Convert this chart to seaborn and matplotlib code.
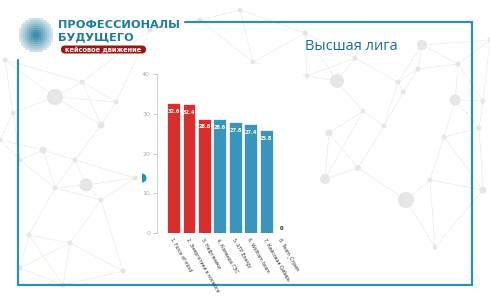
import numpy as np
import pandas as pd
import matplotlib
matplotlib.use("Agg")
import matplotlib.pyplot as plt
import seaborn as sns
from matplotlib.patches import Rectangle, FancyBboxPatch, Circle, Wedge
from matplotlib.lines import Line2D

# ---- data ----
teams = ["1. Force of mind", "2. Энергетики в космосе", "3. Нефтяники",
         "4. Команда ГЭС", "5. АТР Energy", "6. Wolfram team",
         "7. Кейсовая Сибирь", "8. Team_Стрим"]
scores = [32.6, 32.4, 28.8, 28.6, 27.8, 27.4, 25.8, 0.0]
bar_colors = ["#d92e2e", "#d92e2e", "#d92e2e", "#3a95bd", "#3a95bd",
              "#3a95bd", "#3a95bd", "#3a95bd"]
yticks = [0, 10, 20, 30, 40]

W, H = 490, 300
sns.set_theme(style="white")
plt.rcParams['font.family'] = ['DejaVu Sans']

fig = plt.figure(figsize=(W / 100, H / 100), dpi=100)
fig.patch.set_facecolor("white")

# background decoration axes in pixel coords (y down)
bg = fig.add_axes([0, 0, 1, 1], zorder=0)
bg.set_xlim(0, W)
bg.set_ylim(H, 0)
bg.axis("off")

nodes = np.array([
    (55, 97), (13, 113), (82, 82), (116, 102), (101, 125), (43, 150), (20, 160),
    (75, 160), (55, 188), (86, 185), (135, 178), (101, 200), (29, 235), (70, 243),
    (20, 268), (123, 271), (63, 285), (0, 140), (5, 60),
    (253, 62), (305, 33), (355, 58), (422, 45), (458, 64), (398, 82),
    (307, 76), (337, 81), (363, 111), (403, 92), (418, 69), (455, 100),
    (483, 101), (479, 128), (329, 133), (384, 126), (444, 137), (325, 179),
    (358, 168), (430, 180), (406, 200), (483, 190), (435, 247), (490, 40),
    (200, 20), (150, 30), (240, 10),
])
sizes = {0: 8, 9: 6.5, 26: 7, 30: 5.5, 39: 8, 22: 5, 36: 5, 4: 3.5, 5: 3.5,
         33: 3.5, 37: 3, 40: 3.5}
drawn = set()
for i, (x, y) in enumerate(nodes):
    d = np.hypot(nodes[:, 0] - x, nodes[:, 1] - y)
    for j in np.argsort(d)[1:4]:
        key = (min(i, j), max(i, j))
        if key in drawn:
            continue
        drawn.add(key)
        bg.add_line(Line2D([x, nodes[j, 0]], [y, nodes[j, 1]], color="#ebebeb",
                           lw=0.5, zorder=1))
for i, (x, y) in enumerate(nodes):
    r = sizes.get(i, 2.5)
    bg.add_patch(Circle((x, y), r, color="#e6e6e6", zorder=2, lw=0))

# white area behind the chart
bg.add_patch(Rectangle((142, 64), 160, 210, color="white", zorder=3, lw=0))
# small teal half-disc at the left edge of the chart area
bg.add_patch(Wedge((142, 178), 4.5, -90, 90, color="#2b8fb3", zorder=4, lw=0))

# frame
fc = "#2b90b2"
bg.add_line(Line2D([185, 472, 472, 18, 18], [22, 22, 285, 285, 60],
                   color=fc, lw=1.6, zorder=4, solid_joinstyle="miter"))

# logo dots
gx, gy = np.meshgrid(np.arange(20, 53, 2.0), np.arange(17, 53, 2.0))
cx, cy = 36, 35
rr = np.hypot((gx - cx) / 17, (gy - cy) / 18)
mask = rr < 1.0
bg.scatter(gx[mask], gy[mask], s=(1.2 - rr[mask]) * 2.2, color="#2a7f9e",
           zorder=5, lw=0)

tc = "#1f7d9c"
bg.text(58, 25, "ПРОФЕССИОНАЛЫ", fontsize=8.2, fontweight="bold", color=tc,
        va="center", ha="left", zorder=6)
bg.text(58, 37, "БУДУЩЕГО", fontsize=8.2, fontweight="bold", color=tc,
        va="center", ha="left", zorder=6)
bg.add_patch(FancyBboxPatch((61, 45.5), 85, 8, boxstyle="round,pad=0,rounding_size=4",
                            color="#9e1414", zorder=6, lw=0))
bg.text(103.5, 49.7, "кейсовое движение", fontsize=4.8, fontweight="bold",
        color="white", va="center", ha="center", zorder=7)
bg.text(305, 47, "Высшая лига", fontsize=10.5, color="#1a6f8c",
        family=["Open Sans", "DejaVu Sans"], va="center", ha="left", zorder=6)

# ---- chart ----
ax = fig.add_axes([157 / W, 1 - 233 / H, (291 - 157) / W, (233 - 74) / H], zorder=5)
ax.patch.set_alpha(0)
df = pd.DataFrame({"team": teams, "score": scores})
sns.barplot(data=df, x="team", y="score", hue="team", palette=bar_colors,
            legend=False, ax=ax, width=0.82, edgecolor="white", linewidth=0.5,
            saturation=1)
ax.set_xlim(-1.06, 7.6)
ax.set_ylim(0, 40)
ax.set_yticks(yticks)
ax.set_xlabel("")
ax.set_ylabel("")
for c, v in zip(ax.containers, scores):
    if v > 0:
        ax.bar_label(c, labels=[f"{v:.1f}"], padding=-7.5, color="white",
                     fontsize=3.6, fontweight="bold")
    else:
        ax.bar_label(c, labels=["0"], padding=1.5, color="#222222",
                     fontsize=3.8, fontweight="bold")
for s in ["top", "right", "bottom"]:
    ax.spines[s].set_visible(False)
ax.spines["left"].set_color("#cccccc")
ax.spines["left"].set_linewidth(0.6)
ax.tick_params(axis="y", labelsize=4.5, colors="#aaaaaa", length=3, width=0.5,
               direction="out", left=True, pad=2)
ax.tick_params(axis="x", length=0, pad=3)
for lab in ax.get_xticklabels():
    lab.set_rotation(-60)
    lab.set_ha("left")
    lab.set_va("top")
    lab.set_rotation_mode("anchor")
    lab.set_fontsize(3.4)
    lab.set_color("#333333")

fig.savefig("out.png", dpi=100, facecolor="white")
